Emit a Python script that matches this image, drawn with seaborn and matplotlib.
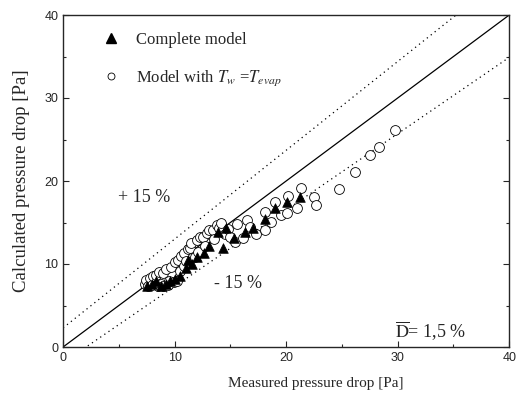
import numpy as np
import pandas as pd
import matplotlib
matplotlib.use('Agg')
import matplotlib.pyplot as plt
from matplotlib.lines import Line2D
from matplotlib.ticker import MultipleLocator
import seaborn as sns

# Complete model (filled triangles)
complete_x = [7.5, 8.0, 8.3, 8.8, 9.2, 9.6, 10.0, 10.5, 11.0, 11.2, 11.6, 12.0, 12.6,
              13.1, 13.9, 14.3, 14.6, 15.3, 16.3, 17.0, 18.1, 19.0, 20.1, 21.2]
complete_y = [7.4, 7.6, 8.0, 7.4, 7.6, 7.9, 8.2, 8.6, 9.5, 10.5, 10.0, 10.8, 11.3,
              12.2, 13.9, 11.9, 14.3, 13.1, 13.9, 14.3, 15.4, 16.7, 17.5, 18.1]

# Model with Tw = Tevap (open circles)
twevap_x = [7.3, 7.4, 7.6, 7.8, 8.0, 8.1, 8.3, 8.5, 8.6, 8.8, 9.0, 9.0, 9.2, 9.4,
            9.5, 9.7, 9.9, 10.0, 10.2, 10.3, 10.5, 10.6, 10.8, 10.8, 11.0, 11.2,
            11.4, 11.5, 11.8, 12.0, 12.1, 12.3, 12.5, 12.7, 12.9, 13.1, 13.4, 13.5,
            13.8, 14.0, 14.2, 14.5, 14.8, 15.0, 15.4, 15.6, 16.1, 16.5, 16.8, 17.3,
            18.1, 18.1, 18.6, 19.0, 19.5, 20.2, 20.1, 21.0, 21.3, 22.5, 22.7, 24.7,
            26.2, 27.5, 28.3, 29.8]
twevap_y = [7.6, 8.1, 7.3, 8.3, 7.5, 8.6, 8.7, 7.4, 9.0, 7.6, 8.9, 7.3, 9.4, 7.5,
            8.0, 9.6, 7.8, 10.2, 8.0, 10.5, 9.2, 11.0, 11.3, 9.8, 10.4, 11.8,
            11.9, 12.5, 10.8, 12.9, 11.4, 13.2, 13.3, 12.2, 13.7, 14.1, 14.1, 13.0,
            14.7, 14.3, 15.0, 13.6, 14.2, 13.2, 12.7, 14.8, 13.1, 15.3, 14.5, 13.6,
            14.1, 16.3, 15.1, 17.5, 15.9, 18.2, 16.1, 16.7, 19.2, 18.1, 17.1, 19.0,
            21.1, 23.1, 24.1, 26.1]

# deviation bands (slope, intercept)
upper_band = (1.07, 2.3)
lower_band = (0.92, -1.9)

df_complete = pd.DataFrame({'measured': complete_x, 'calculated': complete_y})
df_twevap = pd.DataFrame({'measured': twevap_x, 'calculated': twevap_y})

sns.set_style('ticks')
plt.rcParams['font.family'] = ['Liberation Serif', 'DejaVu Serif']
plt.rcParams['mathtext.fontset'] = 'stix'

fig = plt.figure(figsize=(5.17, 4.0), dpi=100)
ax = fig.add_axes([0.122, 0.1325, 0.863, 0.83])

# reference lines
xx = np.array([0, 40])
ax.plot(xx, xx, color='black', lw=0.9, zorder=1)
ax.plot(xx, upper_band[0] * xx + upper_band[1], color='black', lw=0.9, ls=(0, (1, 3)), zorder=1)
ax.plot(xx, lower_band[0] * xx + lower_band[1], color='black', lw=0.9, ls=(0, (1, 3)), zorder=1)

sns.scatterplot(data=df_twevap, x='measured', y='calculated', marker='o', s=50,
                facecolors='white', edgecolor='black', linewidth=0.6, ax=ax, zorder=2)
sns.scatterplot(data=df_complete, x='measured', y='calculated', marker='^', s=48,
                color='black', edgecolor='black', linewidth=0.5, ax=ax, zorder=3)

ax.set_xlim(0, 40)
ax.set_ylim(0, 40)
ax.xaxis.set_major_locator(MultipleLocator(10))
ax.yaxis.set_major_locator(MultipleLocator(10))
ax.xaxis.set_minor_locator(MultipleLocator(5))
ax.yaxis.set_minor_locator(MultipleLocator(5))
ax.tick_params(which='major', direction='out', length=4, width=0.8, labelsize=9)
ax.tick_params(which='minor', direction='out', length=2.5, width=0.8)
ax.tick_params(right=True, which='both', direction='in')
for lab in ax.get_xticklabels() + ax.get_yticklabels():
    lab.set_family('Liberation Sans')
for sp in ax.spines.values():
    sp.set_linewidth(1.0)

ax.set_xlabel('Measured pressure drop [Pa]', fontsize=11, labelpad=9)
ax.xaxis.set_label_coords(0.567, -0.09)
ax.set_ylabel('Calculated pressure drop [Pa]', fontsize=13.5, labelpad=10)

ax.text(4.9, 18.0, '+ 15 %', fontsize=13, va='center', ha='left')
ax.text(13.5, 7.7, '- 15 %', fontsize=13, va='center', ha='left')
ax.text(29.8, 1.9, r'$\overline{\mathrm{D}}$= 1,5 %', fontsize=13, va='center', ha='left')

handles = [Line2D([], [], ls='none', marker='^', color='black', markersize=6.5),
           Line2D([], [], ls='none', marker='o', markerfacecolor='white',
                  markeredgecolor='black', markeredgewidth=0.6, markersize=5)]
labels = ['Complete model', r'Model with $T_w$ =$T_{evap}$']
ax.legend(handles, labels, loc='upper left', bbox_to_anchor=(0.045, 0.995), frameon=False,
          fontsize=12, labelspacing=1.25, handletextpad=0.8, handlelength=1.5)

fig.savefig('out.png', dpi=100)
